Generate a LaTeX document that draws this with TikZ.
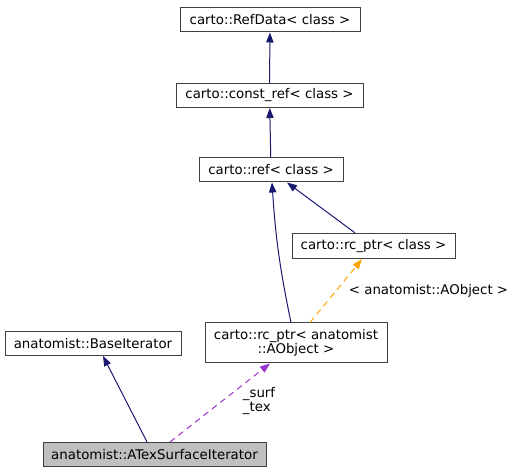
\documentclass[tikz,border=0pt]{standalone}
\usepackage{fontspec}
\setmainfont{DejaVu Sans}
\usepackage{tikz}
\usetikzlibrary{arrows.meta}
\usetikzlibrary{calc}

\definecolor{boxline}{HTML}{404040}
\definecolor{navyline}{HTML}{191970}
\definecolor{orangeline}{HTML}{FFA500}
\definecolor{purpleline}{HTML}{9A32CD}

\begin{document}
\begin{tikzpicture}[x=0.75pt, y=-0.75pt, auto,
        font=\fontsize{10}{10.5}\selectfont,
        class_style/.style={rectangle,draw=boxline,line width=0.75pt,fill=white,minimum height=18pt,inner sep=1pt},
        current_class_style/.style={class_style,fill={rgb,255:red,191;green,191;blue,191}},
        inherit_edge_style/.style={draw=navyline, line width=0.75pt,-{Triangle[length=7.5pt,width=5.5pt]}},
        template_edge_style/.style={draw=orangeline, line width=0.75pt, dash pattern=on 4.5pt off 3.5pt,-{Triangle[length=7.5pt,width=5.5pt]}},
        usage_edge_style/.style={draw=purpleline, line width=0.75pt, dash pattern=on 4.5pt off 3.5pt,-{Triangle[length=7.5pt,width=5.5pt]}}]

        \useasboundingbox (0,0) rectangle (507,473);

        \node [class_style, minimum width=135pt](refdata) at (270,20) {carto::RefData< class >};

        \node [class_style, minimum width=140.25pt](constref) at (269.5,95.5) {carto::const\_ref< class >};

        \node [class_style, minimum width=108pt](ref) at (271,170) {carto::ref< class >};

        \node [class_style, minimum width=122.25pt, minimum height=19pt](rcptr) at (373.5,246) {carto::rc\_ptr< class >};

        \node [class_style, minimum width=136.5pt, minimum height=30pt, align=center](rcobj) at (296,343) {carto::rc\_ptr< anatomist\\::AObject >};

        \node [class_style, minimum width=132pt](baseit) at (93,343.5) {anatomist::BaseIterator};

        \node [current_class_style, minimum width=167.25pt](texit) at (154.5,454.5) {anatomist::ATexSurfaceIterator};

        \draw [inherit_edge_style] (constref) -- (refdata);

        \draw [inherit_edge_style] (ref) -- (constref);

        \draw [inherit_edge_style] ([xshift=-13.9pt]rcptr.north) -- ([xshift=12pt]ref.south);

        \draw [inherit_edge_style] ([xshift=-3.75pt]rcobj.north) to[bend left=4] ([xshift=0.75pt]ref.south);

        \draw [template_edge_style] ([xshift=10.5pt]rcobj.north) -- node[pos=0.5, anchor=west, xshift=6pt]{< anatomist::AObject >} ([xshift=-8.6pt]rcptr.south);

        \draw [inherit_edge_style] ([xshift=-5.6pt]texit.north) -- ([xshift=7.5pt]baseit.south);

        \draw [usage_edge_style] ([xshift=11.6pt]texit.north) -- node[pos=0.52, anchor=west, xshift=12pt, align=left]{\_surf\\\_tex} ([xshift=-19.5pt]rcobj.south);

        \end{tikzpicture}
\end{document}
